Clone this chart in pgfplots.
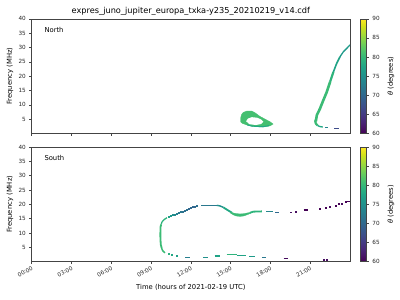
\documentclass[border=0pt]{standalone}
\usepackage{fontspec}
\setmainfont{DejaVu Sans}
\usepackage{pgfplots}
\pgfplotsset{compat=1.18}

\definecolor{v60}{HTML}{440154}
\definecolor{v61}{HTML}{450A5C}
\definecolor{v62}{HTML}{471365}
\definecolor{v67}{HTML}{3E4C8A}
\definecolor{v70}{HTML}{31688E}
\definecolor{v72}{HTML}{2A788E}
\definecolor{v73}{HTML}{277F8E}
\definecolor{v74}{HTML}{25858E}
\definecolor{v75}{HTML}{21918C}
\definecolor{v76}{HTML}{1F9A8A}
\definecolor{v77}{HTML}{20A386}
\definecolor{v78}{HTML}{22A884}
\definecolor{v79}{HTML}{2FB47C}
\definecolor{v80}{HTML}{3BBB75}
\definecolor{v81}{HTML}{44BF70}
\definecolor{spine}{HTML}{444444}

\newcommand{\tickfont}{\fontsize{5.7bp}{6.5bp}\selectfont}
\newcommand{\labfont}{\fontsize{6.8bp}{8bp}\selectfont}
\newcommand{\titfont}{\fontsize{8.2bp}{9.5bp}\selectfont}

\pgfplotsset{
  myaxis/.style={
    scale only axis, width=318.3bp, height=114.7bp,
    xmin=0, xmax=24, ymin=0, ymax=40,
    xtick={0,3,...,21}, ytick={5,10,...,40},
    tick align=outside, major tick length=2.4bp,
    xtick pos=bottom, ytick pos=left,
    tick style={spine, line width=0.5bp},
    axis line style={spine, line width=0.6bp},
    tick label style={font=\tickfont, text=black!85},
    /pgf/number format/assume math mode=true,
    colormap/viridis, point meta min=60, point meta max=90,
    colorbar,
    colorbar style={
      at={(parent axis.north east)}, anchor=north west, xshift=1.5bp,
      scale only axis, width=6.5bp, height=114.7bp,
      ytick={60,65,...,90}, ytick pos=right, yticklabel pos=right,
      tick align=outside, major tick length=2.4bp,
      tick style={spine, line width=0.5bp},
      axis line style={spine, line width=0.6bp},
      yticklabel style={font=\tickfont, text=black!85},
      /pgf/number format/assume math mode=true,
    },
    ylabel={Frequency (MHz)},
    ylabel style={font=\labfont, at={(axis description cs:-0.0625,0.5)}, anchor=base, inner sep=0pt},
    clip=true,
    extra description/.code={
      \node[rotate=90, anchor=center, inner sep=0pt, font=\labfont] at (1.129,0.5) {{\itshape θ} (degrees)};
    },
  },
  seg/.style={line width=#1, line cap=butt, line join=round, forget plot, mark=none},
  dots/.style={scatter, only marks, mark=square*, mark size=0.5bp, point meta=explicit,
    scatter/use mapped color={draw=mapped color, fill=mapped color}, forget plot},
}

\begin{document}
\begin{tikzpicture}
\useasboundingbox (0,0) rectangle (400bp,300bp);

% ---------------- North ----------------
\begin{axis}[myaxis, at={(31.7bp,166.5bp)}, anchor=south west,
  xticklabels={},
  title={expres\_juno\_jupiter\_europa\_txka-y235\_20210219\_v14.cdf},
  title style={font=\titfont, at={(0.5,1)}, anchor=base, yshift=-0.4bp, inner sep=0pt},
]
% loop
\addplot[fill=v81, draw=v81, line width=0.3bp, forget plot] coordinates {
 (15.76,4.0) (15.76,5.5) (15.82,6.6) (15.95,7.35) (16.2,7.8) (16.6,7.8) (16.85,7.2)
 (17.2,6.0) (17.6,5.0) (17.97,4.1) (18.2,3.3) (17.97,2.65) (17.45,2.25) (17.0,2.35)
 (16.6,2.5) (16.2,3.0) (15.9,3.5) (15.76,4.0)};
\addplot[fill=white, draw=none, forget plot] coordinates {
 (16.17,4.3) (16.3,5.2) (16.6,5.7) (17.0,5.5) (17.3,4.9) (17.47,4.1) (17.3,3.3)
 (16.9,2.95) (16.4,3.25) (16.17,4.3)};
\addplot[seg=1bp, v78] coordinates {(16.25,3.0) (16.6,2.6) (17.0,2.45) (17.45,2.4) (17.9,2.75)};
% rising branch
\addplot[seg=2.6bp, v80] coordinates {(21.42,4.2) (21.5,6.4) (21.74,8.7) (21.99,11.6) (22.25,14.5) (22.5,18.0)};
\addplot[seg=2.2bp, v79] coordinates {(22.5,18.0) (22.75,21.5)};
\addplot[seg=1.6bp, v77] coordinates {(22.75,21.5) (23.0,24.5) (23.25,26.8)};
\addplot[seg=1.3bp, v76] coordinates {(23.25,26.8) (23.5,28.5) (23.76,29.7) (24.0,30.9)};
\addplot[seg=2.2bp, v80] coordinates {(21.45,5.0) (21.38,4.3) (21.42,3.5) (21.55,2.8)};
\addplot[seg=1.3bp, v78] coordinates {(21.55,2.8) (21.7,2.45) (21.95,2.25)};
\addplot[seg=1.1bp, v74] coordinates {(22.1,1.95) (22.37,1.95)};
\addplot[seg=1.1bp, v67] coordinates {(22.82,1.75) (23.17,1.75)};
\node[anchor=base west, inner sep=0pt, font=\labfont] at (axis description cs:0.0396,0.883) {North};
\end{axis}

% ---------------- South ----------------
\begin{axis}[myaxis, at={(31.7bp,38.3bp)}, anchor=south west,
  xticklabels={00:00,03:00,06:00,09:00,12:00,15:00,18:00,21:00},
  xticklabel style={rotate=30, anchor=north east, inner sep=1bp},
  xlabel={Time (hours of 2021-02-19 UTC)},
  xlabel style={font=\labfont, at={(axis description cs:0.5,-0.246)}, anchor=base, inner sep=0pt},
]
% nose
\addplot[seg=1.8bp, v80] coordinates {(9.8,4.8) (9.73,6.0) (9.70,9.0) (9.71,12.0) (9.76,13.0)};
\addplot[seg=1.3bp, v79] coordinates {(9.76,13.0) (9.82,13.8) (9.92,14.4) (10.05,14.9) (10.2,15.35)};
\addplot[dots] coordinates {
 (10.32,15.65) [77] (10.47,15.95) [76] (10.62,16.25) [75] (10.77,16.55) [74] (10.92,16.85) [73]
 (11.07,17.1) [72] (11.22,17.35) [72] (11.37,17.6) [71] (11.52,17.9) [71] (11.67,18.25) [71]
 (11.82,18.55) [70] (11.97,18.85) [70] (12.12,19.1) [70] (12.27,19.3) [70] (12.45,19.5) [71]};
\addplot[seg=1.2bp, v72] coordinates {(12.8,19.65) (13.95,19.65)};
\addplot[seg=1.4bp, v75] coordinates {(13.95,19.65) (14.2,19.45) (14.45,18.95)};
\addplot[seg=1.8bp, v78] coordinates {(14.45,18.95) (14.7,18.2) (14.95,17.5) (15.1,17.1)};
\addplot[fill=v80, draw=v80, line width=0.3bp, forget plot] coordinates {
 (15.0,17.35) (15.2,17.0) (15.4,16.8) (15.7,16.65) (16.0,16.75) (16.2,16.95) (16.5,17.2)
 (16.5,16.85) (16.2,16.3) (16.0,15.95) (15.7,15.8) (15.4,15.95) (15.2,16.35) (15.0,16.9) (15.0,17.35)};
\addplot[seg=1.8bp, v79] coordinates {(16.45,17.05) (16.7,17.45) (17.35,17.55)};
\addplot[seg=1.2bp, v74] coordinates {(17.67,17.55) (18.17,17.55)};
\addplot[seg=1.2bp, v70] coordinates {(18.35,17.2) (18.65,17.2)};
\addplot[seg=1.2bp, v62] coordinates {(19.5,17.2) (19.6,17.2)};
\addplot[seg=1.2bp, v60] coordinates {(20.5,18.0) (20.8,18.0)};
\addplot[seg=1.2bp, v60] coordinates {(23.8,21.1) (24.0,21.1)};
\addplot[dots] coordinates {
 (19.93,17.55) [61] (21.7,18.4) [60] (22.14,18.8) [60] (22.44,19.1) [61] (22.93,19.7) [60]
 (23.15,20.1) [60] (23.38,20.4) [61] (23.68,20.8) [60]};
% lower branch
\addplot[seg=1.5bp, v80] coordinates {(9.8,4.8) (9.83,4.3) (9.9,3.7) (10.05,3.1)};
\addplot[dots] coordinates {(10.3,2.7) [79] (10.56,2.3) [78] (10.93,2.0) [77] (22.0,0.85) [61] (22.25,0.85) [61]};
\addplot[seg=1.2bp, v73] coordinates {(11.56,1.5) (11.94,1.5)};
\addplot[seg=1.2bp, v75] coordinates {(12.94,1.5) (13.32,1.5)};
\addplot[seg=1.2bp, v77] coordinates {(13.8,2.0) (14.2,2.0)};
\addplot[seg=1.4bp, v79] coordinates {(14.7,2.5) (15.46,2.5)};
\addplot[seg=1.2bp, v77] coordinates {(15.46,2.25) (16.15,2.25)};
\addplot[seg=1.2bp, v76] coordinates {(16.4,1.9) (16.8,1.9)};
\addplot[seg=1.2bp, v72] coordinates {(17.35,1.5) (17.7,1.5)};
\addplot[seg=1.2bp, v61] coordinates {(19.0,1.2) (19.35,1.2)};
\node[anchor=base west, inner sep=0pt, font=\labfont] at (axis description cs:0.0396,0.878) {South};
\end{axis}
\end{tikzpicture}
\end{document}
